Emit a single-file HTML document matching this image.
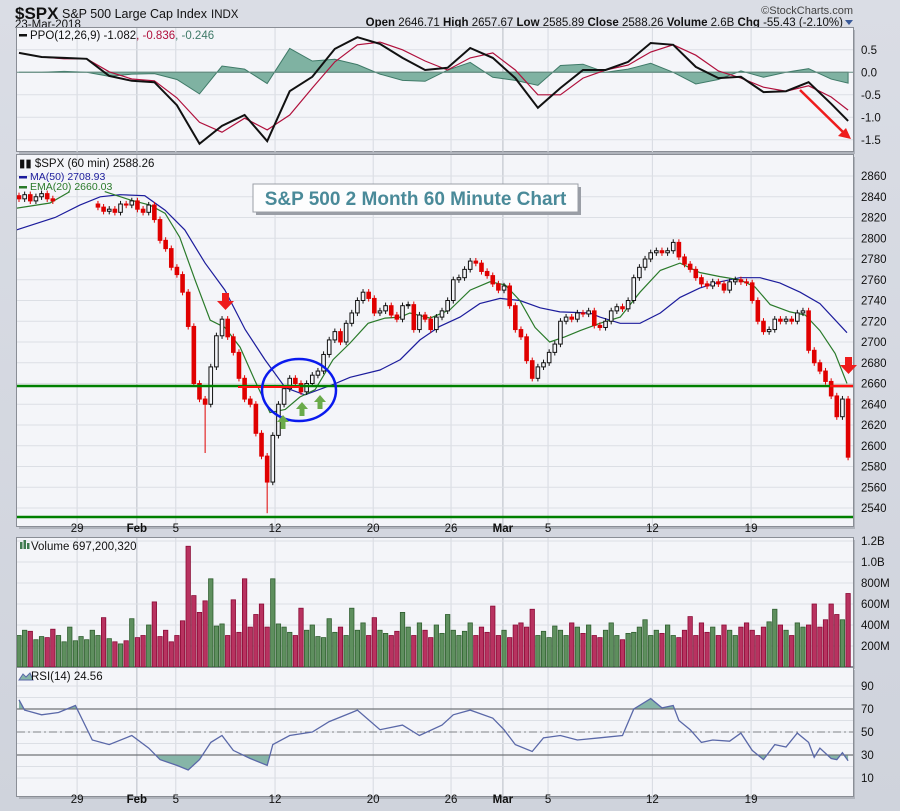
<!DOCTYPE html>
<html><head><meta charset="utf-8"><style>
body{margin:0;background:#d5d9e2;}
svg{display:block;font-family:"Liberation Sans",sans-serif;}
</style></head><body>
<svg id="c" width="900" height="811" viewBox="0 0 900 811">
<defs>
<linearGradient id="bg" x1="0" y1="0" x2="0" y2="1"><stop offset="0" stop-color="#dadde5"/><stop offset="1" stop-color="#cfd3dc"/></linearGradient>
<clipPath id="cpP"><rect x="17" y="28" width="836" height="124"/></clipPath>
<clipPath id="cpM"><rect x="17" y="155" width="836" height="372"/></clipPath>
<clipPath id="cpV"><rect x="17" y="538" width="836" height="129"/></clipPath>
<clipPath id="cpR"><rect x="17" y="668" width="836" height="129"/></clipPath>
</defs>
<rect x="0" y="0" width="900" height="811" fill="url(#bg)"/>
<g>
<text x="15" y="19" font-size="17" font-weight="bold" fill="#111">$SPX</text>
<text x="62" y="18" font-size="12.5" fill="#111">S&amp;P 500 Large Cap Index</text>
<text x="211" y="18" font-size="11.5" fill="#111">INDX</text>
<text x="15" y="28" font-size="11.5" fill="#111">23-Mar-2018</text>
<text x="853" y="14" font-size="11" fill="#444" text-anchor="end">©StockCharts.com</text>
<text x="843" y="26" font-size="11.5" fill="#111" text-anchor="end"><tspan font-weight="bold">Open</tspan> 2646.71  <tspan font-weight="bold">High</tspan> 2657.67  <tspan font-weight="bold">Low</tspan> 2585.89  <tspan font-weight="bold">Close</tspan> 2588.26  <tspan font-weight="bold">Volume</tspan> 2.6B  <tspan font-weight="bold">Chg</tspan> -55.43 (-2.10%)</text>
<path d="M845,20 L853,20 L849,25 Z" fill="#3a5a9a"/>
</g>
<g id="panels"></g>
<g id="content"></g>
</svg>
<script>
// ---- data ----
const closes=[2838,2842,2836,2840,2843,2838,2836,null,null,null,null,null,null,null,
2830,2826,2828,2825,2833,2832,2836,2828,2825,2832,2818,2798,2790,2772,2765,2748,
2715,2660,2645,2640,2676,2706,2722,2705,2690,2665,2645,2640,2612,2590,2565,2610,
2640,2655,2665,2660,2652,2660,2668,2672,2688,2702,2710,2700,2718,2728,2740,2748,
2742,2728,2730,2735,2726,2722,2735,2736,2712,2726,2722,2712,2724,2730,2740,2760,
2762,2770,2778,2776,2768,2764,2756,2750,2754,2735,2712,2705,2682,2665,2676,2680,
2690,2698,2720,2724,2722,2728,2727,2730,2716,2714,2720,2730,2734,2732,2740,2762,
2772,2780,2786,2788,2786,2788,2796,2782,2775,2770,2762,2756,2754,2758,2756,2750,
2758,2760,2758,2757,2740,2720,2710,2712,2722,2720,2722,2720,2728,2730,2692,2680,
2672,2662,2648,2628,2645,2589];
const lowWickBars=[33,44];
const lowWickVals=[2593,2535];
const maBars=[-0.4,6.4,10.8,14.4,17.9,22.3,25.9,29.4,33,36.5,40.1,43.6,47.2,50.7,55.7,58.7,64,67.6,71.1,74.6,78.2,81.7,85.3,88.8,92.4,95.9,101.2,103,106.6,110.1,113.7,117.2,120.7,124.3,127.8,131.4,134.9,138.5,142,146.8];
const maVals=[2808,2820,2832,2840,2842,2841,2827,2808,2776,2750,2712,2683,2656,2649,2659,2666,2673,2683,2702,2715,2724,2737,2742,2740,2733,2729,2728,2724,2718,2718,2728,2743,2752,2758,2762,2762,2757,2748,2737,2709];
const emaBars=[-0.4,5.5,9.0,null,15.2,19.7,23.2,25.9,28.5,31.2,33.9,36.5,39.2,41.8,44.5,47.2,49.8,52.5,55.7,58.7,61.9,64.9,67.6,69.3,72.9,76.4,80,83.5,86.2,88.8,91.5,94.1,96.8,99.5,103,106.6,110.1,113.7,117.2,120.7,124.3,127.8,130.5,133.2,136.7,139.4,142,144.7,146.8];
const emaVals=[2829,2834,2845,null,2845,2837,2832,2824,2801,2760,2721,2714,2695,2663,2632,2635,2647,2654,2683,2699,2718,2723,2724,2728,2723,2731,2750,2758,2755,2740,2714,2700,2705,2711,2718,2724,2748,2769,2776,2767,2763,2760,2753,2736,2729,2726,2711,2689,2660];
const ppoBars=[0,4,8,12,16,20,24,28,32,36,40,44,48,52,56,60,64,68,72,76,80,84,88,92,96,100,104,108,112,116,120,124,128,132,136,140,144,147];
const ppoVals=[0.43,0.34,0.32,0.30,-0.08,-0.19,-0.22,-0.73,-1.59,-1.19,-0.95,-1.53,-0.42,-0.10,0.52,0.78,0.63,0.32,0.05,0.10,0.54,0.32,-0.13,-0.79,-0.35,0.05,0.05,0.23,0.65,0.61,0.12,-0.13,-0.10,-0.44,-0.42,-0.22,-0.70,-1.08];
const sigVals=[0.43,0.34,0.30,0.30,0.01,-0.15,-0.19,-0.57,-1.11,-1.33,-1.02,-1.28,-0.95,-0.35,0.23,0.61,0.67,0.50,0.25,0.05,0.32,0.43,0.05,-0.50,-0.50,-0.13,0.05,0.16,0.45,0.61,0.38,0.03,-0.13,-0.33,-0.42,-0.30,-0.55,-0.84];
const volumes=[300,350,340,260,290,280,360,300,240,380,
250,290,260,350,300,470,270,240,220,250,
460,280,300,400,620,290,350,240,300,440,
1150,680,520,630,840,390,410,300,640,330,
840,380,500,600,380,840,410,380,330,300,
560,350,400,290,280,460,330,380,300,560,
350,420,300,470,350,320,300,340,520,380,
300,420,350,280,400,320,500,350,300,340,
420,300,380,330,580,300,350,280,400,420,
380,550,300,340,280,390,350,300,420,380,
320,400,300,280,350,420,300,260,320,330,
380,450,300,350,320,400,300,280,350,480,
300,420,330,380,300,400,350,300,380,420,
350,300,380,430,550,400,350,300,420,380,
400,600,380,450,600,500,450,700];
const rsiBars=[0,1,4,7,10,13,16,20,23,25,28,30,32,34,36,38,41,44,45,48,52,55,59,60,64,68,71,75,77,80,84,86,88,91,93,96,99,103,107,109,112,114,116,117,119,121,123,126,128,130,132,134,136,138,140,141,142,144,145,146,147];
const rsiVals=[78,69,65,67,73,43,39,47,36,26,21,17,26,41,47,34,27,21,39,47,50,59,67,69,52,56,47,56,65,69,62,52,39,33,45,47,43,45,47,70,79,71,73,60,52,41,43,42,49,34,26,39,37,49,41,28,36,27,26,32,25];
const priceTicks=[2540,2560,2580,2600,2620,2640,2660,2680,2700,2720,2740,2760,2780,2800,2820,2840,2860];
const ppoTicks=[0.5,0.0,-0.5,-1.0,-1.5];
const volTicks=[200,400,600,800,1000,1200];
const volTickLabels=["200M","400M","600M","800M","1.0B","1.2B"];
const rsiTicks=[10,30,50,70,90];
const dateLabels=["29","Feb","5","12","20","26","Mar","5","12","19"];
const dateBars=[10.3,20.9,27.8,45.4,62.8,76.6,85.8,93.8,112.3,129.8];
const dateBold=[false,true,false,false,false,false,true,false,false,false];

// ---- axes ----
const X0=19, DX=5.64;
const xOf=i=>X0+i*DX;
const yP=p=>176+(2860-p)*1.0375;
const yPPO=v=>72.3-v*45;
const yV=m=>667-m*0.105;
const yR=r=>732-(r-50)*1.15;
const NS="http://www.w3.org/2000/svg";
function mk(tag,attrs,parent){const e=document.createElementNS(NS,tag);for(const k in attrs)e.setAttribute(k,attrs[k]);parent.appendChild(e);return e;}
const P=document.getElementById('panels'), C=document.getElementById('content');

// panels
const panelDefs=[["ppo-panel",28,124],["price-panel",155,372],["volume-panel",538,129],["rsi-panel",668,129]];
panelDefs.forEach(d=>{
  mk('rect',{x:19,y:d[1]+2,width:836,height:d[2],fill:'#b0b4bc'},P);
  const r=mk('rect',{x:16.5,y:d[1]-0.5,width:837,height:d[2],fill:'#f4f5f9',stroke:'#8a8e96','stroke-width':1},P);
  
  
});
// vertical date grid
[[28,152],[155,527],[538,667],[668,797]].forEach(([a,b])=>{
  dateBars.forEach((bi,k)=>{
    mk('line',{x1:xOf(bi),x2:xOf(bi),y1:a,y2:b,stroke:dateBold[k]?'#b8bcc4':'#d6d9e0','stroke-width':1},P);
  });
});
// date labels
[532,803].forEach(yy=>{
  dateLabels.forEach((t,k)=>{
    const e=mk('text',{x:xOf(dateBars[k]),y:yy,'font-size':11.5,'text-anchor':'middle',fill:'#111','font-weight':dateBold[k]?'bold':'normal'},C);
    e.textContent=t;
    
    
  });
});
// price grid & ticks
priceTicks.forEach(p=>{
  mk('line',{x1:17,x2:853,y1:yP(p),y2:yP(p),stroke:'#dcdfe5'},P);
  const e=mk('text',{x:861,y:yP(p)+4,'font-size':11.5,fill:'#111'},C);
  e.textContent=p;
  
  
});
ppoTicks.forEach(v=>{
  mk('line',{x1:17,x2:853,y1:yPPO(v),y2:yPPO(v),stroke:'#dcdfe5'},P);
  const e=mk('text',{x:861,y:yPPO(v)+4,'font-size':11.5,fill:'#111'},C);
  e.textContent=v.toFixed(1);
  
  
});
volTicks.forEach((m,k)=>{
  mk('line',{x1:17,x2:853,y1:yV(m),y2:yV(m),stroke:'#dcdfe5'},P);
  const e=mk('text',{x:861,y:yV(m)+4,'font-size':11.5,fill:'#111'},C);
  e.textContent=volTickLabels[k];
  
  
});
for(let r=10;r<=90;r+=10){mk('line',{x1:17,x2:853,y1:yR(r),y2:yR(r),stroke:'#dcdfe5'},P);}
rsiTicks.forEach(r=>{
  const e=mk('text',{x:861,y:yR(r)+4,'font-size':11.5,fill:'#111'},C);
  e.textContent=r;
  
  
});

// ---- PPO ----
const gP=mk('g',{'clip-path':'url(#cpP)'},C);
let hp='M'+xOf(ppoBars[0])+','+yPPO(0);
ppoBars.forEach((b,k)=>{hp+=' L'+xOf(b)+','+yPPO(ppoVals[k]-sigVals[k]);});
hp+=' L'+xOf(ppoBars[ppoBars.length-1])+','+yPPO(0)+' Z';
const hist=mk('path',{d:hp,fill:'#7fb2a2',stroke:'#3f7a68','stroke-width':1},gP);


mk('line',{x1:17,x2:853,y1:yPPO(0),y2:yPPO(0),stroke:'#6b8f85','stroke-width':1},gP);
function line(bars,vals,yf,attrs,parent,name){
  let d='',pen=false;
  bars.forEach((b,k)=>{if(b===null||vals[k]===null){pen=false;return;}d+=(pen?' L':' M')+xOf(b).toFixed(1)+','+yf(vals[k]).toFixed(1);pen=true;});
  const e=mk('path',Object.assign({d:d,fill:'none'},attrs),parent);
  
  
  return e;
}
line(ppoBars,sigVals,yPPO,{stroke:'#b0103c','stroke-width':1.2},gP,'ppo-signal-line');
line(ppoBars,ppoVals,yPPO,{stroke:'#111','stroke-width':2},gP,'ppo-line');

// ---- Price ----
const gM=mk('g',{'clip-path':'url(#cpM)'},C);
line(maBars,maVals,yP,{stroke:'#1c1c9c','stroke-width':1.2},gM,'ma50-line');
line(emaBars,emaVals,yP,{stroke:'#2a7a2a','stroke-width':1.2},gM,'ema20-line');
closes.forEach((c,i)=>{
  if(c===null)return;
  const prev=(i>0&&closes[i-1]!==null)?closes[i-1]:c+3;
  const up=c>=prev;
  const top=Math.max(c,prev), bot=Math.min(c,prev);
  const wi=lowWickBars.indexOf(i);
  const lo=wi>=0?lowWickVals[wi]:bot-3;
  const x=xOf(i);
  mk('line',{x1:x,x2:x,y1:yP(top+3),y2:yP(lo),stroke:up?'#111':'#e00000','stroke-width':1},gM);
  const h=Math.max(1,yP(bot)-yP(top));
  const r=mk('rect',{x:x-1.8,y:yP(top),width:3.6,height:h,fill:up?'#f4f5f9':'#e00000',stroke:up?'#111':'#e00000','stroke-width':1},gM);
  
  
});

// ---- Volume ----
const gV=mk('g',{'clip-path':'url(#cpV)'},C);
volumes.forEach((m,i)=>{
  const c=closes[i], p=i>0?closes[i-1]:null;
  const down=(c!==null&&p!==null&&c<p);
  const r=mk('rect',{x:xOf(i)-2.2,y:yV(m),width:4.4,height:667-yV(m),fill:down?'#b83260':'#5e8f5e',stroke:down?'#8a0a35':'#2f5e2f','stroke-width':0.8},gV);
  
  
});

// ---- RSI ----
const gR=mk('g',{'clip-path':'url(#cpR)'},C);
let ra='M'+xOf(rsiBars[0])+','+yR(50);
rsiBars.forEach((b,k)=>{ra+=' L'+xOf(b)+','+yR(rsiVals[k]);});
ra+=' L'+xOf(rsiBars[rsiBars.length-1])+','+yR(50)+' Z';
const ob=mk('clipPath',{id:'cpOB'},C);mk('rect',{x:17,y:668,width:836,height:yR(70)-668},ob);
const os=mk('clipPath',{id:'cpOS'},C);mk('rect',{x:17,y:yR(30),width:836,height:797-yR(30)},os);
const gOB=mk('g',{'clip-path':'url(#cpOB)'},gR);
const f1=mk('path',{d:ra.replace(/,[0-9.]+ Z$/,','+yR(70)+' Z').replace(/^M([0-9.]+),[0-9.]+/,'M$1,'+yR(70)),fill:'#86b5a8'},gOB);


const gOS=mk('g',{'clip-path':'url(#cpOS)'},gR);
const f2=mk('path',{d:ra.replace(/,[0-9.]+ Z$/,','+yR(30)+' Z').replace(/^M([0-9.]+),[0-9.]+/,'M$1,'+yR(30)),fill:'#86b5a8'},gOS);


mk('line',{x1:17,x2:853,y1:yR(70),y2:yR(70),stroke:'#707478','stroke-width':1.2},gR);
mk('line',{x1:17,x2:853,y1:yR(30),y2:yR(30),stroke:'#707478','stroke-width':1.2},gR);
mk('line',{x1:17,x2:853,y1:yR(50),y2:yR(50),stroke:'#808488','stroke-width':1,'stroke-dasharray':'8,3,2,3'},gR);
line(rsiBars,rsiVals,yR,{stroke:'#5a68a8','stroke-width':1.3},gR,'rsi-line');
</script>
<svg width="0" height="0"></svg>
<script>
// ---- annotations & legends ----
(function(){
const S=document.getElementById('c');const NS="http://www.w3.org/2000/svg";
const g=document.createElementNS(NS,'g');S.appendChild(g);
g.innerHTML=`
<line x1="17" y1="386" x2="853" y2="386" stroke="#008000" stroke-width="2.5"/>
<line x1="17" y1="517" x2="853" y2="517" stroke="#008000" stroke-width="2.5"/>
<line x1="238" y1="387" x2="300" y2="387" stroke="#ff1010" stroke-width="2"/>
<line x1="830" y1="386" x2="853" y2="386" stroke="#ff1010" stroke-width="2.5"/>
<ellipse cx="299" cy="390" rx="37" ry="31" fill="none" stroke="#0a1aee" stroke-width="2.5"/>
<path d="M222,293 h7 v8 h5 l-8.5,9 l-8.5,-9 h5 z" fill="#ee1c1c"/>
<path d="M845,357 h7 v8 h5 l-8.5,9 l-8.5,-9 h5 z" fill="#ee1c1c"/>
<path d="M283,415 l-6,7 h3.5 v7 h5 v-7 h3.5 z" fill="#6aaa4a"/>
<path d="M302,402 l-6,7 h3.5 v7 h5 v-7 h3.5 z" fill="#6aaa4a"/>
<path d="M320,395 l-6,7 h3.5 v7 h5 v-7 h3.5 z" fill="#6aaa4a"/>
<line x1="800" y1="90" x2="843" y2="132" stroke="#ee1c1c" stroke-width="2.5"/>
<path d="M851,139 l-13,-3 l8,-8 z" fill="#ee1c1c"/>
<rect x="256" y="187" width="325" height="28" fill="#9a9ea6"/>
<rect x="253" y="184" width="325" height="28" fill="#fdfdfe" stroke="#9a9ea6"/>
<text x="415.5" y="205" font-size="19" font-weight="bold" fill="#4a8a99" text-anchor="middle">S&amp;P 500 2 Month 60 Minute Chart</text>
<g font-size="11.5"><rect x="19" y="34" width="8" height="2.5" fill="#111"/><text x="30" y="39" fill="#111">PPO(12,26,9) -1.082<tspan fill="#b0103c">, -0.836</tspan><tspan fill="#3f7a68">, -0.246</tspan></text></g>
<g font-size="11.5"><text x="19" y="167" fill="#111">&#9646;&#9646; $SPX (60 min) 2588.26</text>
<rect x="19" y="176" width="8" height="2.5" fill="#1c1c9c"/><text x="30" y="180" fill="#1c1c9c" font-size="10.5">MA(50) 2708.93</text>
<rect x="19" y="186" width="8" height="2.5" fill="#2a7a2a"/><text x="30" y="190" fill="#2a7a2a" font-size="10.5">EMA(20) 2660.03</text></g>
<g font-size="11.5"><rect x="20" y="542" width="2.5" height="7" fill="#3f7a50"/><rect x="23.5" y="540" width="2.5" height="9" fill="#3f7a50"/><rect x="27" y="543" width="2.5" height="6" fill="#3f7a50"/><text x="31" y="550" fill="#111">Volume 697,200,320</text></g>
<g font-size="11.5"><path d="M19,680 l4,-6 l3,3 l4,-4 l3,7 z" fill="#86b5a8" stroke="#5a68a8"/><text x="31" y="680" fill="#111">RSI(14) 24.56</text></g>
`;
})();
</script>
</body></html>
